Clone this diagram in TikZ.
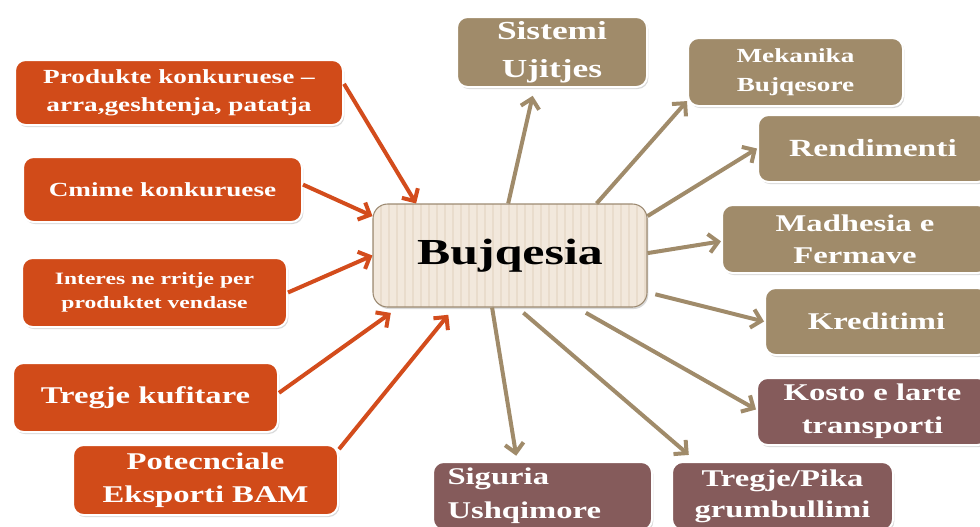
\documentclass[tikz,border=0pt]{standalone}
\usepackage{fontspec}
\newfontfamily\boxfont{Liberation Serif}[FakeStretch=1.36]
\usetikzlibrary{arrows.meta,shadows}

\definecolor{boxorange}{HTML}{D14B19}
\definecolor{boxtan}{HTML}{A08B6A}
\definecolor{boxmaroon}{HTML}{855B5B}
\definecolor{hubfill}{HTML}{F2E8DC}
\definecolor{hubstripe}{HTML}{E9DCCC}
\definecolor{hubedge}{HTML}{9C8A72}
\definecolor{arrorange}{HTML}{D34C1C}
\definecolor{arrtan}{HTML}{A08B6A}

\tikzset{
  wh/.style 2 args={minimum width=#1*0.75pt, minimum height=#2*0.75pt},
  fsize/.style 2 args={font=\boxfont\bfseries\fontsize{#1}{#2}\selectfont},
  box/.style={rectangle, rounded corners=8pt, draw=white, line width=1.5pt,
    text=white, inner sep=0pt, align=center,
    drop shadow={shadow xshift=1pt, shadow yshift=-1.5pt, opacity=0.3}},
  orangebox/.style={box, fill=boxorange},
  tanbox/.style={box, fill=boxtan},
  maroonbox/.style={box, fill=boxmaroon},
  hubbox/.style={rectangle, rounded corners=11pt, fill=hubfill, draw=hubedge,
    line width=0.8pt, inner sep=0pt, fsize={27.5}{33},
    drop shadow={shadow xshift=1pt, shadow yshift=-1.5pt, opacity=0.3},
    path picture={\foreach \k in {0,...,36}
      \draw[hubstripe, line width=1.6pt]
        ([xshift=\k*6pt]path picture bounding box.south west) --
        ([xshift=\k*6pt]path picture bounding box.north west);}},
  inarrow/.style={draw=arrorange, line width=3pt,
    -{Straight Barb[length=7pt,width=14pt]}},
  outarrow/.style={draw=arrtan, line width=3pt,
    -{Straight Barb[length=7pt,width=14pt]}},
}

\begin{document}
\begin{tikzpicture}[x=0.75pt, y=-0.75pt]
  \useasboundingbox (0,0) rectangle (980,526);
  \clip (0,0) rectangle (980,526);

  % Define nodes
  \node[hubbox, wh={274}{103}]                (bujq)  at (510,255.5) {Bujqesia};

  \node[orangebox, wh={328}{65}, fsize={15}{21}]    (prod)  at (179,92.5)  {Produkte konkuruese –\\arra,geshtenja, patatja};
  \node[orangebox, wh={279}{65}, fsize={15}{21}]    (cmime) at (162.5,189.5) {Cmime konkuruese};
  \node[orangebox, wh={265}{69}, fsize={13}{18}]    (inter) at (154.5,292.5) {Interes ne rritje per\\produktet vendase};
  \node[orangebox, wh={265}{69}, fsize={18}{24}]    (tregk) at (145.5,397.5) {Tregje kufitare};
  \node[orangebox, wh={265}{70}, fsize={18}{24.75}] (potec) at (205.5,480)  {Potecnciale\\Eksporti BAM};

  \node[tanbox, wh={190}{70}, fsize={19.5}{28.5}]  (sist)  at (552,52)    {Sistemi\\Ujitjes};
  \node[tanbox, wh={215}{68}, fsize={15}{22}]      (mekan) at (795.5,72)  {Mekanika\\Bujqesore};
  \node[tanbox, wh={230}{67}, fsize={18.5}{24}]    (rendi) at (873,148.5) {Rendimenti};
  \node[tanbox, wh={266}{68}, fsize={18}{24}]      (madh)  at (855,239)   {Madhesia e\\Fermave};
  \node[tanbox, wh={223}{67}, fsize={18}{24}]      (kredi) at (876.5,321.5) {Kreditimi};

  \node[maroonbox, wh={231}{67}, fsize={18}{24.75}] (kosto) at (872.5,411.5) {Kosto e larte\\transporti};
  \node[maroonbox, wh={221}{68}, fsize={18}{23.25}] (tregp) at (782.5,496) {Tregje/Pika\\grumbullimi};
  \node[maroonbox, wh={219}{68}, fsize={18}{25.5}, align=left,
        text width=190*0.75pt, inner xsep=14.5*0.75pt] (sigur) at (542.5,496) {Siguria\\Ushqimore};

  % Connect the nodes
  \draw[inarrow] (prod.3) -- (bujq.151);
  \draw[inarrow] (cmime.2) -- (bujq.164);
  \draw[inarrow] (inter.east) -- (bujq.west);
  \draw[inarrow, shorten >=7pt] (tregk.2) -- (bujq.205);
  \draw[inarrow, shorten >=7pt] (potec.13) -- (bujq.223);

  \draw[outarrow, shorten >=6pt] (bujq.92) -- (sist.244);
  \draw[outarrow] (bujq.31) -- (mekan.195);
  \draw[outarrow] (bujq.16) -- (rendi.west);
  \draw[outarrow] (bujq.1) -- (madh.181);
  \draw[outarrow, shorten <=6pt] (bujq.345) -- (kredi.west);
  \draw[outarrow, shorten <=8pt] (bujq.322) -- (kosto.179);
  \draw[outarrow, shorten <=6pt, shorten >=7pt] (bujq.278) -- (tregp.158);
  \draw[outarrow, shorten >=4pt] (bujq.251) -- (sigur.126);

\end{tikzpicture}
\end{document}
